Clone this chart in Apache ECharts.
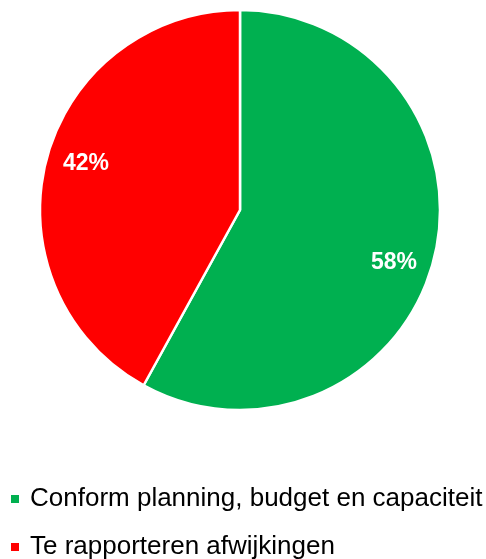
<!DOCTYPE html>
<html>
<head>
<meta charset="utf-8">
<script src="https://cdn.jsdelivr.net/npm/echarts@6/dist/echarts.min.js"></script>
<style>html,body{margin:0;padding:0;background:#fff;}#c{width:486px;height:559px;}</style>
</head>
<body>
<div id="c"></div>
<script>
const categories = ['Conform planning, budget en capaciteit', 'Te rapporteren afwijkingen'];
const values = [58, 42];
const colors = ['#00B050', '#FF0000'];
const labelShift = [[-2, 13], [2, -6]];

const chart = echarts.init(document.getElementById('c'), null, {renderer: 'canvas'});
const mainData = categories.map((n, i) => ({name: n, value: values[i], itemStyle: {color: colors[i]}}));
const labelData = categories.map((n, i) => ({
  name: n, value: values[i],
  label: {offset: labelShift[i]}
}));
chart.setOption({
  animation: false,
  legend: {
    orient: 'vertical', left: 9, top: 486, height: 120, padding: 0,
    icon: 'rect', itemWidth: 10, itemHeight: 10, itemGap: 22,
    data: categories,
    textStyle: {fontFamily: 'Liberation Sans', fontSize: 26, lineHeight: 26, color: '#000', padding: [0, 0, 0, 5]}
  },
  series: [
    {
      type: 'pie', center: [240, 210], radius: [0, 200], startAngle: 90, clockwise: true,
      silent: true, label: {show: false}, labelLine: {show: false},
      itemStyle: {borderColor: '#fff', borderWidth: 2.5},
      data: mainData
    },
    {
      type: 'pie', center: [240, 210], radius: [118, 198], startAngle: 90, clockwise: true,
      silent: true,
      itemStyle: {color: 'rgba(0,0,0,0)', borderWidth: 0},
      label: {show: true, position: 'inside', formatter: '{d}%', color: '#fff',
              fontFamily: 'Liberation Sans', fontWeight: 'bold', fontSize: 23},
      labelLine: {show: false},
      data: labelData
    }
  ]
});
</script>
</body>
</html>
